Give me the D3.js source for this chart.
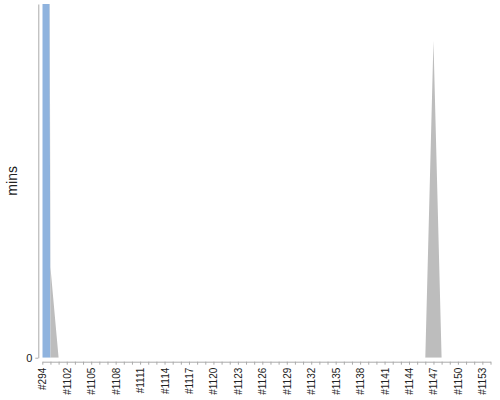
<!DOCTYPE html>
<html>
<head>
<meta charset="utf-8">
<script src="https://cdn.jsdelivr.net/npm/d3@7"></script>
<style>
  body { margin: 0; background: #fff; }
  svg { font-family: "Liberation Sans", Arial, sans-serif; }
</style>
</head>
<body>
<svg id="chart" width="500" height="400"></svg>
<script>
// build labels along the x axis
let builds = ["#294", "#1100", "#1101", "#1102", "#1103", "#1104", "#1105", "#1106",
  "#1107", "#1108", "#1109", "#1110", "#1111", "#1112", "#1113", "#1114",
  "#1115", "#1116", "#1117", "#1118", "#1119", "#1120", "#1121", "#1122",
  "#1123", "#1124", "#1125", "#1126", "#1127", "#1128", "#1129", "#1130",
  "#1131", "#1132", "#1133", "#1134", "#1135", "#1136", "#1137", "#1138",
  "#1139", "#1140", "#1141", "#1142", "#1143", "#1144", "#1145", "#1146",
  "#1147", "#1148", "#1149", "#1150", "#1151", "#1152", "#1153", "#1154"];

// minutes per build, two stacked series
let blueMins = [475, 0, 0, 0, 0, 0, 0, 0, 0, 0, 0, 0, 0, 0, 0, 0,
  0, 0, 0, 0, 0, 0, 0, 0, 0, 0, 0, 0, 0, 0, 0, 0,
  0, 0, 0, 0, 0, 0, 0, 0, 0, 0, 0, 0, 0, 0, 0, 0,
  0, 0, 0, 0, 0, 0, 0, 0];
let grayMins = [0, 12.8, 0, 0, 0, 0, 0, 0, 0, 0, 0, 0, 0, 0, 0, 0,
  0, 0, 0, 0, 0, 0, 0, 0, 0, 0, 0, 0, 0, 0, 0, 0,
  0, 0, 0, 0, 0, 0, 0, 0, 0, 0, 0, 0, 0, 0, 0, 0,
  44.8, 0, 0, 0, 0, 0, 0, 0];

let yDomain = [0, 50];
let yTicks = [0];

let chartAttr = {
  "left": 42.3,
  "right": 490.5,
  "top": 4,
  "bottom": 357.7,
  "axisOffset": 4
}

let svg = d3.select("#chart");

let xScale = d3.scalePoint()
  .domain(builds)
  .range([chartAttr.left, chartAttr.right]);

let yScale = d3.scaleLinear()
  .domain(yDomain)
  .range([chartAttr.bottom, chartAttr.top]);

// stack the two series
let rows = builds.map(function(b, i) {
  return {"build": b, "blue": blueMins[i], "gray": grayMins[i]};
});
let stacked = d3.stack().keys(["blue", "gray"])(rows);
let colors = {"blue": "#8fb3de", "gray": "#bdbdbd"};

// clip areas to the plot region
svg.append("clipPath")
  .attr("id", "plotClip")
  .append("rect")
  .attr("x", chartAttr.left)
  .attr("y", chartAttr.top)
  .attr("width", chartAttr.right - chartAttr.left)
  .attr("height", chartAttr.bottom - chartAttr.top);

let areaGenerator = d3.area()
  .x(function(d) { return xScale(d.data.build); })
  .y0(function(d) { return yScale(d[0]); })
  .y1(function(d) { return yScale(d[1]); });

svg.append("g")
  .attr("clip-path", "url(#plotClip)")
  .selectAll("path")
  .data(stacked)
  .enter()
  .append("path")
  .attr("d", areaGenerator)
  .style("fill", function(d) { return colors[d.key]; });

// x axis, label every third build
let xAxis = svg.append("g")
  .attr("transform", "translate(0," + (chartAttr.bottom + chartAttr.axisOffset) + ")")
  .call(d3.axisBottom(xScale)
    .tickSize(3)
    .tickSizeOuter(0)
    .tickFormat(function(d, i) { return i % 3 === 0 ? d : ""; }));
xAxis.selectAll("text")
  .attr("transform", "rotate(-90)")
  .attr("x", -6)
  .attr("y", 0)
  .attr("dy", "0.35em")
  .style("text-anchor", "end")
  .style("font-size", "10px")
  .style("fill", "#222");

// y axis
let yAxis = svg.append("g")
  .attr("transform", "translate(" + (chartAttr.left - chartAttr.axisOffset) + ",0)")
  .call(d3.axisLeft(yScale)
    .tickValues(yTicks)
    .tickSize(3)
    .tickSizeOuter(0));
yAxis.selectAll("text")
  .style("font-size", "11px")
  .style("fill", "#222");

svg.selectAll(".domain, .tick line")
  .style("stroke", "#aaa");

// y axis title
svg.append("text")
  .attr("transform", "translate(17," + ((chartAttr.top + chartAttr.bottom) / 2) + ")rotate(-90)")
  .text("mins")
  .style("text-anchor", "middle")
  .style("font-size", "14px")
  .style("fill", "#222");
</script>
</body>
</html>
